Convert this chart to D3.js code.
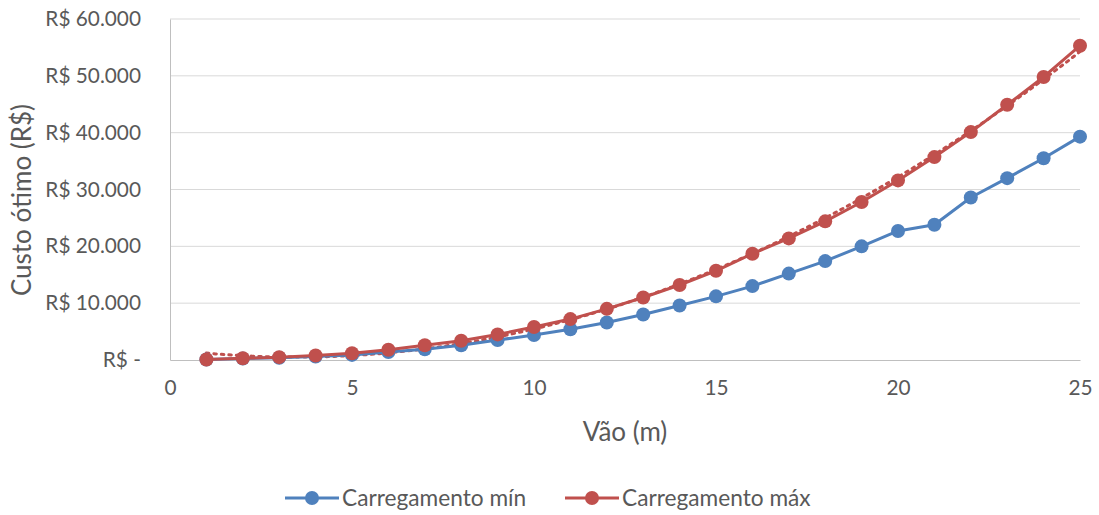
<!DOCTYPE html>
<html>
<head>
<meta charset="utf-8">
<script src="https://cdn.jsdelivr.net/npm/d3@7"></script>
<style>
  html, body { margin: 0; padding: 0; background: #fff; }
  svg { display: block; font-family: Lato, "Open Sans", sans-serif; }
</style>
</head>
<body>
<svg id="chart" width="1099" height="515"></svg>
<script>
// Span (m)
const spans = [1,2,3,4,5,6,7,8,9,10,11,12,13,14,15,16,17,18,19,20,21,22,23,24,25];
// Optimal cost (R$) under minimum load
const costMin = [100,250,400,600,900,1400,1900,2600,3500,4400,5400,6600,8000,9600,11200,13000,15200,17400,20000,22700,23800,28600,32000,35500,39300];
// Optimal cost (R$) under maximum load
const costMax = [100,300,500,800,1200,1800,2600,3400,4500,5800,7200,9000,11000,13200,15700,18700,21400,24400,27800,31600,35700,40100,44900,49800,55300];
const xTicks = [0,5,10,15,20,25];
const yTicks = [0,10000,20000,30000,40000,50000,60000];
const seriesNames = ["Carregamento mín", "Carregamento máx"];
const colors = ["#4F81BD", "#C0504D"];

const svg = d3.select("#chart");
const m = { left: 170, right: 1080, top: 19, bottom: 360 };

const x = d3.scaleLinear().domain([0, 25]).range([m.left, m.right]);
const y = d3.scaleLinear().domain([0, 60000]).range([m.bottom, m.top]);

const fmt = v => v === 0 ? "R$ -" : "R$ " + d3.format(",")(v).replace(/,/g, ".");

// horizontal gridlines
svg.append("g").selectAll("line").data(yTicks.filter(d => d > 0)).join("line")
  .attr("x1", m.left).attr("x2", m.right)
  .attr("y1", d => y(d)).attr("y2", d => y(d))
  .attr("stroke", "#d9d9d9").attr("stroke-width", 1);

// axes
const yAxis = svg.append("g").attr("transform", `translate(${m.left},0)`)
  .call(d3.axisLeft(y).tickValues(yTicks).tickFormat(fmt).tickSize(0).tickPadding(29));
yAxis.select(".domain").attr("stroke", "#bfbfbf");
yAxis.selectAll("text").attr("fill", "#595959").style("font-size", "20.8px")
  .style("font-family", "Lato, sans-serif");

const xAxis = svg.append("g").attr("transform", `translate(0,${m.bottom})`)
  .call(d3.axisBottom(x).tickValues(xTicks).tickSize(0).tickPadding(20));
xAxis.select(".domain").attr("stroke", "#bfbfbf");
xAxis.selectAll("text").attr("fill", "#595959").style("font-size", "20.8px")
  .style("font-family", "Lato, sans-serif");

// axis titles
svg.append("text").attr("x", 625).attr("y", 441).attr("text-anchor", "middle")
  .attr("fill", "#595959").style("font-size", "26px").text("Vão (m)");
svg.append("text").attr("transform", "translate(31,200) rotate(-90)")
  .attr("text-anchor", "middle").attr("fill", "#595959").style("font-size", "26px")
  .text("Custo ótimo (R$)");

// quadratic least-squares trend for the maximum-load series
function quadFit(xs, ys) {
  let s = [0,0,0,0,0], t = [0,0,0];
  xs.forEach((xi, i) => {
    for (let k = 0; k < 5; k++) s[k] += Math.pow(xi, k);
    for (let k = 0; k < 3; k++) t[k] += ys[i] * Math.pow(xi, k);
  });
  const A = [[s[0],s[1],s[2],t[0]],[s[1],s[2],s[3],t[1]],[s[2],s[3],s[4],t[2]]];
  for (let i = 0; i < 3; i++) {
    for (let j = i + 1; j < 3; j++) {
      const f = A[j][i] / A[i][i];
      for (let k = i; k < 4; k++) A[j][k] -= f * A[i][k];
    }
  }
  const c = [0,0,0];
  for (let i = 2; i >= 0; i--) {
    let v = A[i][3];
    for (let k = i + 1; k < 3; k++) v -= A[i][k] * c[k];
    c[i] = v / A[i][i];
  }
  return xv => c[0] + c[1] * xv + c[2] * xv * xv;
}
const trend = quadFit(spans, costMax);
const trendPts = d3.range(1, 25.001, 0.25).map(v => [v, trend(v)]);
svg.append("path")
  .attr("d", d3.line().x(d => x(d[0])).y(d => y(d[1]))(trendPts))
  .attr("fill", "none").attr("stroke", colors[1]).attr("stroke-width", 3)
  .attr("stroke-dasharray", "2.5,5").attr("stroke-linecap", "round");

// series lines and markers
const line = d3.line().x((d, i) => x(spans[i])).y(d => y(d));
[costMin, costMax].forEach((vals, si) => {
  svg.append("path").attr("d", line(vals)).attr("fill", "none")
    .attr("stroke", colors[si]).attr("stroke-width", 3).attr("stroke-linejoin", "round");
  svg.append("g").selectAll("circle").data(vals).join("circle")
    .attr("cx", (d, i) => x(spans[i])).attr("cy", d => y(d)).attr("r", 7)
    .attr("fill", colors[si]);
});

// legend
const legendX = [285, 565];
seriesNames.forEach((name, i) => {
  const g = svg.append("g").attr("transform", `translate(${legendX[i]},498)`);
  g.append("line").attr("x1", 0).attr("x2", 54).attr("y1", 0).attr("y2", 0)
    .attr("stroke", colors[i]).attr("stroke-width", 3);
  g.append("circle").attr("cx", 27).attr("cy", 0).attr("r", 7).attr("fill", colors[i]);
  g.append("text").attr("x", 57).attr("y", 0).attr("dy", "0.35em")
    .attr("fill", "#595959").style("font-size", "22.7px").text(name);
});
</script>
</body>
</html>
